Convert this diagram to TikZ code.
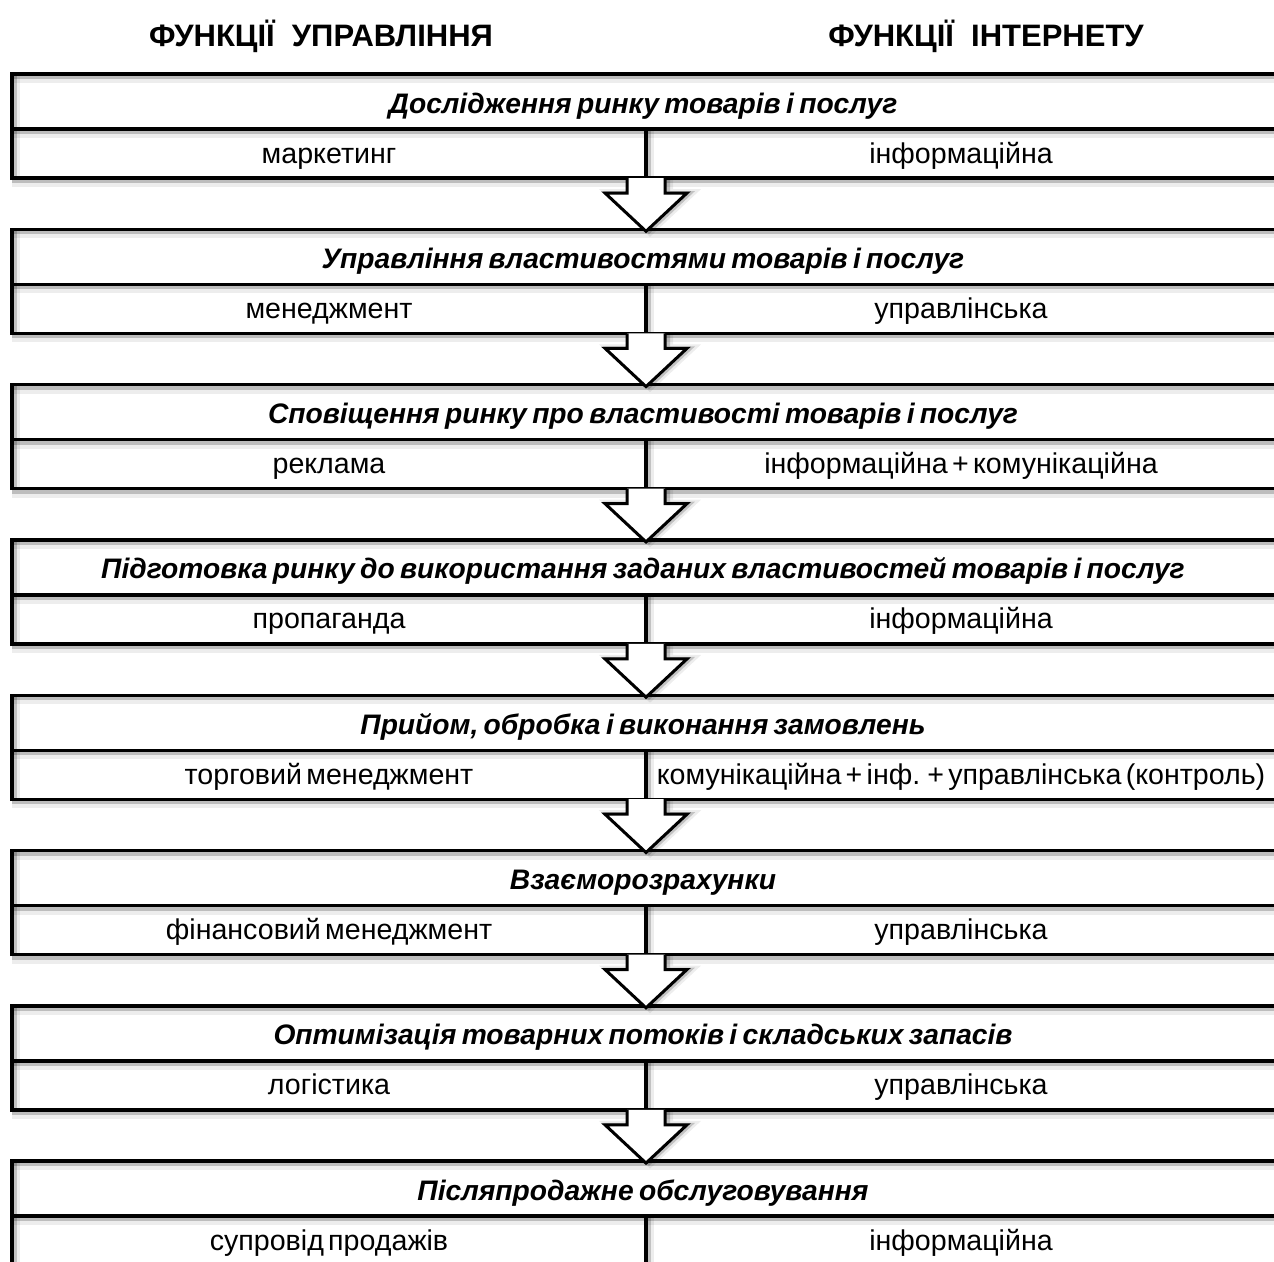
\documentclass[tikz,border=0pt]{standalone}
\usepackage{fontspec}
\setmainfont{Liberation Sans}
\usetikzlibrary{calc}
\newcommand\titlespacing{\spaceskip=0.19em\relax}
\newcommand\cellspacing{\spaceskip=0.15em\relax}
\begin{document}
\begin{tikzpicture}[x=1pt,y=-1pt,
  rule/.style={line width=3.4pt, draw=black, line cap=rect},
  hshadow/.style={preaction={draw=black, opacity=0.07, line width=10pt, transform canvas={yshift=-4pt}},
                  preaction={draw=black, opacity=0.2, line width=4pt, transform canvas={yshift=-3pt}}},
  vshadow/.style={preaction={draw=black, opacity=0.07, line width=8pt, transform canvas={xshift=4pt}},
                  preaction={draw=black, opacity=0.18, line width=4pt, transform canvas={xshift=3pt}}},
  blockarrow/.style={line width=3pt, draw=black, fill=white, line join=miter},
  headtext/.style={font={\fontsize{31}{34}\selectfont\bfseries}, anchor=base},
  titletext/.style={font={\fontsize{28.2}{32}\selectfont\bfseries\itshape}, anchor=base},
  celltext/.style={font={\fontsize{28.6}{32}\selectfont}, anchor=base},
]
\useasboundingbox (0,0) rectangle (1274,1261);
\fill[white] (0,0) rectangle (1274,1261);

% column headings
\node[headtext] (hleft)  at (321,46) {ФУНКЦІЇ\ \ УПРАВЛІННЯ};
\node[headtext] (hright) at (986,46) {ФУНКЦІЇ\ \ ІНТЕРНЕТУ};

% the eight blocks: title row, then management / internet row
\foreach \i/\ttl/\lft/\rgt in {
  1/{Дослідження ринку товарів і послуг}/{маркетинг}/{інформаційна},
  2/{Управління властивостями товарів і послуг}/{менеджмент}/{управлінська},
  3/{Сповіщення ринку про властивості товарів і послуг}/{реклама}/{інформаційна + комунікаційна},
  4/{Підготовка ринку до використання заданих властивостей товарів і послуг}/{пропаганда}/{інформаційна},
  5/{Прийом, обробка і виконання замовлень}/{торговий менеджмент}/{комунікаційна + інф. + управлінська (контроль)},
  6/{Взаєморозрахунки}/{фінансовий менеджмент}/{управлінська},
  7/{Оптимізація товарних потоків і складських запасів}/{логістика}/{управлінська},
  8/{Післяпродажне обслуговування}/{супровід продажів}/{інформаційна}}
{
  \pgfmathsetmacro\yt{74+155.3*(\i-1)}
  \pgfmathsetmacro\ym{\yt+55}
  \pgfmathsetmacro\yb{\yt+104}
  \ifnum\i=8 \def\yb{1275}\fi
  \coordinate (tl\i) at (12,\yt);
  \coordinate (tr\i) at (1280,\yt);
  \coordinate (ml\i) at (12,\ym);
  \coordinate (mr\i) at (1280,\ym);
  \coordinate (mc\i) at (646,\ym);
  \coordinate (bl\i) at (12,\yb);
  \coordinate (br\i) at (1280,\yb);
  \coordinate (bc\i) at (646,\yb);
  % frame lines
  \draw[rule, hshadow] (tl\i) -- (tr\i);
  \draw[rule, hshadow] (ml\i) -- (mr\i);
  \ifnum\i<8 \draw[rule, hshadow] (bl\i) -- (br\i); \fi
  \draw[rule, vshadow] (tl\i) -- (bl\i);
  \draw[rule, vshadow] (mc\i) -- (bc\i);
  % texts
  \node[titletext] (title\i) at (643,\yt+39) {\titlespacing\ttl};
  \node[celltext]  (mgmt\i)  at (329,\ym+34) {\cellspacing\lft};
  \node[celltext]  (inet\i)  at (961,\ym+34) {\cellspacing\rgt};
}

% hollow arrows between consecutive blocks
\foreach \i [evaluate=\i as \j using int(\i+1)] in {1,...,7}{
  \draw[blockarrow, vshadow]
    ($(bc\i)+(-19,0)$) -- ($(bc\i)+(-19,15)$) -- ($(bc\i)+(-41,15)$)
    -- ($(tl\j)!(bc\i)!(tr\j)+(0,2)$)
    -- ($(bc\i)+(41,15)$) -- ($(bc\i)+(19,15)$) -- ($(bc\i)+(19,0)$);
}
\end{tikzpicture}
\end{document}
